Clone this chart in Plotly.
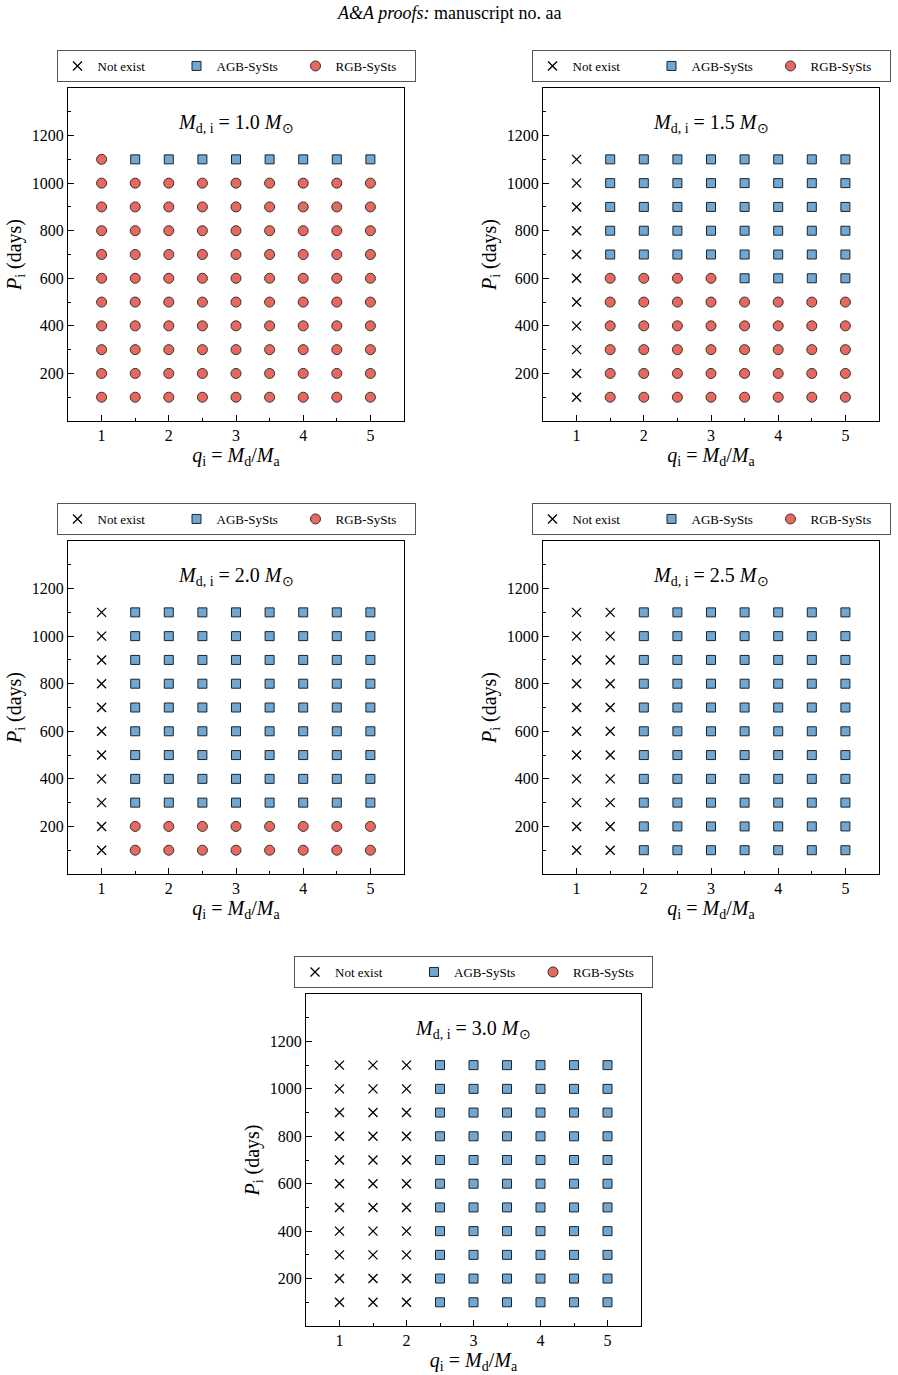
import plotly.graph_objects as go

# ---------------- data ----------------
q_values = [1.0, 1.5, 2.0, 2.5, 3.0, 3.5, 4.0, 4.5, 5.0]
P_values = [1100, 1000, 900, 800, 700, 600, 500, 400, 300, 200, 100]   # rows, top to bottom
donor_masses = ["1.0", "1.5", "2.0", "2.5", "3.0"]

# X = Not exist, A = AGB-SySts, R = RGB-SySts ; one string per P row, one char per q
grid_md10 = ["RAAAAAAAA"] + ["RRRRRRRRR"] * 10
grid_md15 = ["XAAAAAAAA"] * 5 + ["XRRRRAAAA"] + ["XRRRRRRRR"] * 5
grid_md20 = ["XAAAAAAAA"] * 9 + ["XRRRRRRRR"] * 2
grid_md25 = ["XXAAAAAAA"] * 11
grid_md30 = ["XXXAAAAAA"] * 11
grids = [grid_md10, grid_md15, grid_md20, grid_md25, grid_md30]

class_codes = ["X", "A", "R"]
class_names = ["Not exist", "AGB-SySts", "RGB-SySts"]

x_ticks = [1, 2, 3, 4, 5]
y_ticks = [200, 400, 600, 800, 1000, 1200]

# ---------------- layout geometry (pixels) ----------------
W, H = 898, 1375
panels_px = [(68, 404, 88, 421), (543, 879, 88, 421),
             (68, 404, 541, 874), (543, 879, 541, 874),
             (306, 641, 994, 1326)]

FONT = "Liberation Serif"
styles = {
    "X": dict(symbol="x-thin", size=9, color="black", line=dict(color="black", width=1.3)),
    "A": dict(symbol="square", size=9, color="#6FA7D5", line=dict(color="#222222", width=1)),
    "R": dict(symbol="circle", size=10, color="#E8675F", line=dict(color="#333333", width=1)),
}

fig = go.Figure()
layout = dict(width=W, height=H, margin=dict(l=0, r=0, t=0, b=0),
              paper_bgcolor="white", plot_bgcolor="white",
              font=dict(family=FONT, color="black"))
annotations = []

for k, (grid, md, (x0, x1, y0, y1)) in enumerate(zip(grids, donor_masses, panels_px)):
    idx = "" if k == 0 else str(k + 1)
    leg = "legend" if k == 0 else f"legend{k + 1}"
    for code, name in zip(class_codes, class_names):
        xs, ys = [], []
        for P, row in zip(P_values, grid):
            for q, c in zip(q_values, row):
                if c == code:
                    xs.append(q)
                    ys.append(P)
        if not xs:
            xs, ys = [None], [None]
        fig.add_trace(go.Scatter(x=xs, y=ys, mode="markers", name=name,
                                 marker=styles[code], xaxis="x" + idx, yaxis="y" + idx,
                                 legend=leg, showlegend=True, hoverinfo="x+y"))
    xd = [x0 / W, x1 / W]
    yd = [1 - y1 / H, 1 - y0 / H]
    axcommon = dict(showline=True, linecolor="black", linewidth=1.2, mirror=True,
                    ticks="inside", ticklen=6, tickwidth=1, tickcolor="black",
                    showgrid=False, zeroline=False,
                    tickfont=dict(family=FONT, size=16, color="black"))
    layout["xaxis" + idx] = dict(axcommon, domain=xd, range=[0.5, 5.5], tickvals=x_ticks,
                                 anchor="y" + idx,
                                 minor=dict(ticks="inside", ticklen=3, tickcolor="black", dtick=0.5, tick0=0),
                                 title=dict(text="<i>q</i><sub>i</sub> = <i>M</i><sub>d</sub>/<i>M</i><sub>a</sub>",
                                            font=dict(family=FONT, size=20), standoff=2))
    layout["yaxis" + idx] = dict(axcommon, domain=yd, range=[0, 1400], tickvals=y_ticks,
                                 anchor="x" + idx,
                                 minor=dict(ticks="inside", ticklen=3, tickcolor="black", dtick=100, tick0=0),
                                 title=dict(text="<i>P</i><sub>i</sub> (days)",
                                            font=dict(family=FONT, size=20), standoff=4))
    layout[leg] = dict(orientation="h", x=(x0 + x1) / 2 / W, xanchor="center",
                       y=1 - (y0 - 22) / H, yanchor="middle", bordercolor="#555555", borderwidth=1,
                       bgcolor="white", font=dict(family=FONT, size=13),
                       entrywidthmode="pixels", entrywidth=74, itemclick=False)
    annotations.append(dict(x=(x0 + x1) / 2 / W, y=1 - (y0 + 35) / H, xref="paper", yref="paper",
                            xanchor="center", yanchor="middle",
                            text=f"<i>M</i><sub>d, i</sub> = {md} <i>M</i><sub>⊙</sub>",
                            showarrow=False, font=dict(family=FONT, size=20)))

annotations.append(dict(x=0.5, y=1 - 13 / H, xref="paper", yref="paper",
                        xanchor="center", yanchor="middle",
                        text="<i>A&A proofs:</i> manuscript no. aa", showarrow=False,
                        font=dict(family=FONT, size=18)))
layout["annotations"] = annotations
fig.update_layout(**layout)
fig.write_html("out.html")
